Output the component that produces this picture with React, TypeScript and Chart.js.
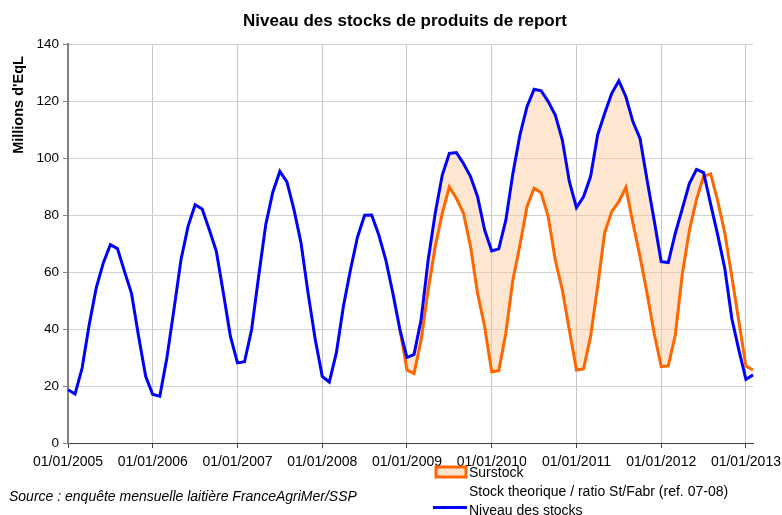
import { useEffect, useRef } from 'react';
import { Chart, registerables } from 'chart.js';

Chart.register(...registerables);

const FONT = "'Liberation Sans', Arial, sans-serif";

// Monthly categories, Jan 2005 .. Feb 2013
const firstYear = 2005;
const monthCount = 98;
const categories: string[] = [];
for (let i = 0; i < monthCount; i++) {
  const y = firstYear + Math.floor(i / 12);
  const m = (i % 12) + 1;
  categories.push(`01/${String(m).padStart(2, '0')}/${y}`);
}

const tickLabels = [
  '01/01/2005', '01/01/2006', '01/01/2007', '01/01/2008', '01/01/2009',
  '01/01/2010', '01/01/2011', '01/01/2012', '01/01/2013',
];

// Niveau des stocks (Millions d'EqL)
const niveauDesStocks = [
  18.7, 17.2, 26.3, 41.5, 54.4, 63.2, 69.6, 68.2, 60.2, 52.4, 37.4, 23.4,
  17.0, 16.4, 29.8, 46.8, 64.3, 76.0, 83.6, 82.1, 74.9, 67.3, 52.6, 37.4,
  28.1, 28.5, 39.8, 58.5, 76.6, 88.0, 95.3, 91.6, 81.9, 70.2, 52.5, 36.5,
  23.4, 21.4, 31.6, 48.0, 60.8, 72.3, 79.9, 80.0, 73.1, 64.3, 52.6, 39.8,
  30.0, 31.1, 43.2, 64.2, 80.6, 94.0, 101.6, 101.9, 98.1, 93.5, 86.4, 74.7,
  67.4, 68.1, 78.2, 94.6, 108.1, 118.0, 124.1, 123.6, 119.8, 115.1, 106.3, 91.7,
  82.6, 86.4, 93.5, 108.1, 115.7, 122.7, 127.1, 121.5, 112.7, 106.9, 92.3, 78.2,
  63.6, 63.3, 73.6, 82.3, 91.1, 96.0, 94.9, 83.8, 73.0, 61.3, 43.7, 32.6,
  22.3, 23.9,
];

// Stock theorique / ratio St/Fabr (ref. 07-08), starts Dec 2008
const theoriqueStartIndex = 47;
const stockTheorique = [
  39.8,
  25.6, 24.4, 36.1, 53.7, 68.9, 80.6, 89.9, 85.8, 80.6, 68.9, 52.5, 40.8,
  25.0, 25.4, 38.5, 57.2, 69.5, 82.9, 89.4, 87.8, 79.4, 64.2, 53.7, 39.6,
  25.6, 26.0, 37.3, 54.9, 73.8, 81.2, 84.7, 89.7, 77.1, 65.4, 52.5, 38.5,
  26.8, 27.1, 37.9, 59.5, 74.7, 85.5, 93.5, 94.4, 85.0, 73.8, 58.4, 42.6,
  27.0, 25.6,
];

const BLUE = '#0000FF';
const ORANGE = '#FF6600';
const PEACH = 'rgba(255, 200, 150, 0.45)';
const PEACH_LEGEND = '#FFE4CC';

const overlayPlugin = {
  id: 'overlayTexts',
  afterDraw(chart: any) {
    const ctx = chart.ctx as CanvasRenderingContext2D;
    ctx.save();
    // Title
    ctx.fillStyle = '#000';
    ctx.font = `bold 17px ${FONT}`;
    ctx.textAlign = 'center';
    ctx.textBaseline = 'middle';
    ctx.fillText('Niveau des stocks de produits de report', 405, 21);

    // Y axis title
    ctx.save();
    ctx.translate(19, 105);
    ctx.rotate(-Math.PI / 2);
    ctx.font = `bold 14.5px ${FONT}`;
    ctx.textAlign = 'center';
    ctx.textBaseline = 'middle';
    ctx.fillText("Millions d'EqL", 0, 0);
    ctx.restore();

    // Source
    ctx.font = `italic 14px ${FONT}`;
    ctx.textAlign = 'left';
    ctx.textBaseline = 'middle';
    ctx.fillStyle = '#000';
    ctx.fillText('Source : enquête mensuelle laitière FranceAgriMer/SSP', 9, 497);

    // Legend
    ctx.fillStyle = PEACH_LEGEND;
    ctx.fillRect(436, 467, 30, 10);
    ctx.strokeStyle = ORANGE;
    ctx.lineWidth = 3;
    ctx.strokeRect(436, 467, 30, 10);

    ctx.strokeStyle = BLUE;
    ctx.lineWidth = 3;
    ctx.beginPath();
    ctx.moveTo(433, 507.5);
    ctx.lineTo(467, 507.5);
    ctx.stroke();

    ctx.fillStyle = '#000';
    ctx.font = `14px ${FONT}`;
    ctx.textAlign = 'left';
    ctx.textBaseline = 'middle';
    ctx.fillText('Surstock', 469, 473);
    ctx.fillText('Stock theorique / ratio St/Fabr (ref. 07-08)', 469, 492);
    ctx.fillText('Niveau des stocks', 469, 511);
    ctx.restore();
  },
};

export default function App() {
  const canvasRef = useRef<HTMLCanvasElement | null>(null);

  useEffect(() => {
    if (!canvasRef.current) return;
    const theoriqueData = categories.map((_, i) =>
      i >= theoriqueStartIndex ? stockTheorique[i - theoriqueStartIndex] : null
    );
    const surstockTop = categories.map((_, i) =>
      i >= theoriqueStartIndex ? niveauDesStocks[i] : null
    );

    const chart = new Chart(canvasRef.current, {
      type: 'line',
      data: {
        labels: categories,
        datasets: [
          {
            label: 'Niveau des stocks',
            data: niveauDesStocks,
            borderColor: BLUE,
            borderWidth: 3,
            pointRadius: 0,
            tension: 0,
            fill: false,
          },
          {
            label: 'Stock theorique / ratio St/Fabr (ref. 07-08)',
            data: theoriqueData,
            borderColor: ORANGE,
            borderWidth: 3,
            pointRadius: 0,
            tension: 0,
            fill: false,
          },
          {
            label: 'Surstock',
            data: surstockTop,
            borderColor: 'transparent',
            borderWidth: 0,
            pointRadius: 0,
            tension: 0,
            fill: { target: 1, above: PEACH, below: 'transparent' },
          },
        ],
      },
      options: {
        animation: false,
        responsive: true,
        maintainAspectRatio: false,
        layout: { padding: { top: 44, right: 29, left: 0, bottom: 0 } },
        plugins: {
          legend: { display: false },
          title: { display: false },
          tooltip: { enabled: false },
        },
        scales: {
          x: {
            type: 'category',
            offset: false,
            afterFit: (scale: any) => {
              scale.height = 72;
            },
            border: { color: '#404040', width: 1 },
            grid: {
              color: (c: any) => (c.index % 12 === 0 ? '#c8c8c8' : 'transparent'),
              tickColor: (c: any) => (c.index % 12 === 0 ? '#404040' : 'transparent'),
              tickLength: 5,
              lineWidth: 1,
            },
            ticks: {
              autoSkip: false,
              maxRotation: 0,
              minRotation: 0,
              padding: 6,
              color: '#000',
              font: { family: FONT, size: 14 },
              callback: (_v: any, index: number) =>
                index % 12 === 0 ? tickLabels[index / 12] : '',
            },
          },
          y: {
            min: 0,
            max: 140,
            afterFit: (scale: any) => {
              scale.width = 68;
            },
            border: { color: '#808080', width: 2 },
            grid: {
              color: '#d0d0d0',
              tickColor: '#808080',
              tickLength: 5,
              lineWidth: 1,
            },
            ticks: {
              stepSize: 20,
              padding: 4,
              color: '#000',
              font: { family: FONT, size: 13.5 },
            },
          },
        },
      },
      plugins: [overlayPlugin],
    });
    return () => chart.destroy();
  }, []);

  return (
    <div style={{ position: 'fixed', left: 0, top: 0, width: 782, height: 515, background: '#fff' }}>
      <canvas ref={canvasRef} />
    </div>
  );
}
